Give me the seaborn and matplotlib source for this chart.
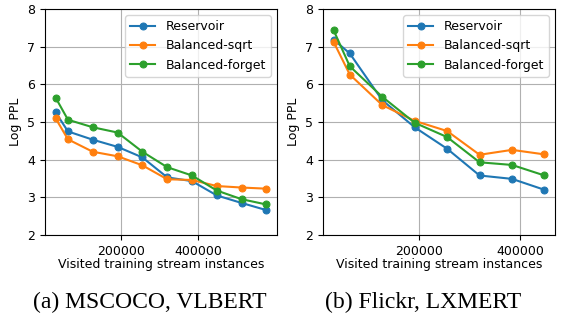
import pandas as pd
import numpy as np
import matplotlib.pyplot as plt
import seaborn as sns

methods = ["Reservoir", "Balanced-sqrt", "Balanced-forget"]

x_coco = [32000, 64000, 128000, 192000, 256000, 320000, 384000, 448000, 512000, 576000]
coco_reservoir = [5.26, 4.75, 4.53, 4.34, 4.06, 3.53, 3.43, 3.05, 2.85, 2.66]
coco_sqrt = [5.10, 4.54, 4.21, 4.09, 3.85, 3.48, 3.46, 3.30, 3.26, 3.23]
coco_forget = [5.65, 5.06, 4.86, 4.72, 4.21, 3.80, 3.58, 3.18, 2.95, 2.81]

x_flickr = [32000, 64000, 128000, 192000, 256000, 320000, 384000, 448000]
flickr_reservoir = [7.19, 6.82, 5.58, 4.86, 4.29, 3.58, 3.49, 3.20]
flickr_sqrt = [7.13, 6.26, 5.45, 5.03, 4.76, 4.13, 4.26, 4.14]
flickr_forget = [7.44, 6.48, 5.67, 4.98, 4.60, 3.93, 3.86, 3.58]

captions = ["(a) MSCOCO, VLBERT", "(b) Flickr, LXMERT"]
colors = ["#1f77b4", "#ff7f0e", "#2ca02c"]


def long_form(x, series):
    rows = []
    for name, vals in zip(methods, series):
        for xi, yi in zip(x, vals):
            rows.append({"instances": xi, "ppl": yi, "method": name})
    return pd.DataFrame(rows)


df_coco = long_form(x_coco, [coco_reservoir, coco_sqrt, coco_forget])
df_flickr = long_form(x_flickr, [flickr_reservoir, flickr_sqrt, flickr_forget])

plt.rcParams["font.size"] = 9
fig = plt.figure(figsize=(5.62, 3.14), dpi=100)
ax1 = fig.add_axes([45 / 562, 1 - 235 / 314, 232 / 562, 226 / 314])
ax2 = fig.add_axes([323 / 562, 1 - 235 / 314, 232 / 562, 226 / 314])

# subcaptions sit under each subfigure (not centred on the axes)
cap_x = [150 / 562, 423 / 562]

for ax, df, cap, cx in zip([ax1, ax2], [df_coco, df_flickr], captions, cap_x):
    sns.lineplot(data=df, x="instances", y="ppl", hue="method", palette=colors,
                 marker="o", markersize=5, markeredgecolor=None, linewidth=1.5,
                 ax=ax)
    ax.set_ylim(2, 8)
    ax.set_yticks(range(2, 9))
    ax.set_xticks([200000, 400000])
    ax.set_xticklabels(["200000", "400000"])
    ax.grid(True, color="#b0b0b0", linewidth=0.8)
    ax.set_axisbelow(True)
    ax.set_xlabel("Visited training stream instances", fontsize=9, labelpad=0.5)
    ax.set_ylabel("Log PPL", fontsize=9)
    ax.tick_params(labelsize=9)
    ax.legend(loc="upper right", fontsize=9, title=None)
    fig.text(cx, 6 / 314, cap, ha="center", va="baseline",
             fontsize=17, family="Liberation Serif")

fig.savefig("out.png", dpi=100)
